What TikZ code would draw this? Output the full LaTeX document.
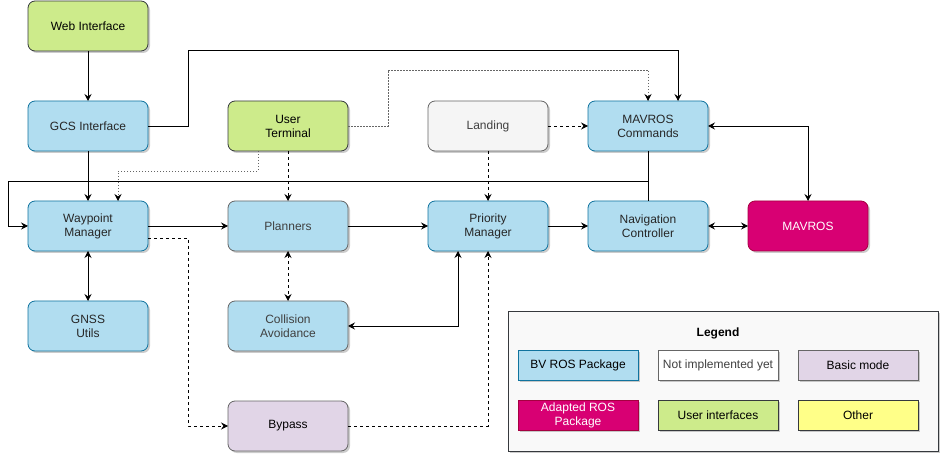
\documentclass[tikz,border=0pt]{standalone}
\usepackage{fontspec}
\setmainfont{Liberation Sans}
\usetikzlibrary{positioning, arrows.meta, shadows}
\definecolor{bvfill}{HTML}{B1DDF0}
\definecolor{bvline}{HTML}{10739E}
\definecolor{uifill}{HTML}{CDEB8B}
\definecolor{uiline}{HTML}{36393D}
\definecolor{nyifill}{HTML}{F5F5F5}
\definecolor{greyline}{HTML}{666666}
\definecolor{basicfill}{HTML}{E1D5E7}
\definecolor{adfill}{HTML}{D80073}
\definecolor{adline}{HTML}{A50040}
\definecolor{otherfill}{HTML}{FFFF88}

\begin{document}
\begin{tikzpicture}[x=1pt, y=1pt, font=\fontsize{12}{14}\selectfont, >={Stealth[length=7pt, width=7pt, inset=2.5pt]},
  line width=0.8pt,
  box/.style={draw, rounded corners=7pt, align=center, minimum width=120pt, minimum height=50pt, inner sep=2pt, outer sep=0pt,
    drop shadow={shadow xshift=2pt, shadow yshift=-2pt, opacity=0.2, fill=black}},
  bv/.style={box, fill=bvfill, draw=bvline, text=black!85},
  bvg/.style={box, fill=bvfill, draw=greyline, text=black!75},
  ui/.style={box, fill=uifill, draw=uiline},
  nyi/.style={box, fill=nyifill, draw=greyline, text=black!75},
  basic/.style={box, fill=basicfill, draw=greyline},
  adapted/.style={box, fill=adfill, draw=adline, text=white},
  legitem/.style={draw, align=center, minimum width=120pt, minimum height=30pt, inner sep=2pt, outer sep=0pt,
    drop shadow={shadow xshift=2pt, shadow yshift=-2pt, opacity=0.2, fill=black}},
  dsh/.style={dash pattern=on 3pt off 3pt},
  dot/.style={draw=greyline, line width=0.6pt, dash pattern=on 1.5pt off 1.5pt,
    -{Stealth[length=7pt, width=7pt, inset=2.5pt, black]}}]
  \useasboundingbox (0,0) rectangle (940,-454);

  % main column nodes
  \node[ui] (web) at (88,-26) {Web Interface};
  \node[bv, below=50pt of web] (gcs) {GCS Interface};
  \node[bv, below=50pt of gcs] (wpm) {Waypoint\\Manager};
  \node[bv, below=50pt of wpm] (gnss) {GNSS\\Utils};
  \node[bvg, right=80pt of wpm] (plan) {Planners};
  \node[bvg, below=50pt of plan] (coll) {Collision\\Avoidance};
  \node[basic, below=50pt of coll] (bypass) {Bypass};
  \node[ui, above=50pt of plan] (term) {User\\Terminal};
  \node[bv, right=80pt of plan] (prio) {Priority\\Manager};
  \node[nyi, above=50pt of prio] (landing) {Landing};
  \node[bv, right=40pt of prio] (nav) {Navigation\\Controller};
  \node[bv, above=50pt of nav] (mavcmd) {MAVROS\\Commands};
  \node[adapted, right=40pt of nav] (mavros) {MAVROS};

  % legend
  \node[draw=uiline, fill=nyifill!60, minimum width=430pt, minimum height=140pt, outer sep=0pt,
    drop shadow={shadow xshift=2pt, shadow yshift=-2pt, opacity=0.2, fill=black}] (leg) at (723,-381) {};
  \node[font=\fontsize{12}{14}\selectfont\bfseries] (legtitle) at (718,-333) {Legend};
  \node[legitem, fill=bvfill, draw=bvline] (l1) at (578,-365) {BV ROS Package};
  \node[legitem, fill=white, draw=greyline, text=black!75] (l2) at (718,-365) {Not implemented yet};
  \node[legitem, fill=basicfill, draw=greyline] (l3) at (858,-365) {Basic mode};
  \node[legitem, fill=adfill, draw=adline, text=white] (l4) at (578,-415) {Adapted ROS\\Package};
  \node[legitem, fill=uifill, draw=uiline] (l5) at (718,-415) {User interfaces};
  \node[legitem, fill=otherfill, draw=uiline] (l6) at (858,-415) {Other};

  % connectors
  \draw[->] (web) -- (gcs);
  \draw[->] (gcs) -- (wpm);
  \draw[->] (gcs.east) -- ++(40,0) -- ++(0,76) -| ([xshift=30]mavcmd.north);
  \draw[dot] (term.east) -- ++(40,0) -- ++(0,56) -| (mavcmd.north);
  \draw[dot] ([xshift=-30]term.south) -- ++(0,-20) -| ([xshift=30]wpm.north);
  \draw[dsh, ->] (term) -- (plan);
  \draw (mavcmd) -- (nav);
  \draw[->] ([yshift=20]nav.north) -- ++(-640,0) |- (wpm.west);
  \draw[->] (wpm) -- (plan);
  \draw[->] (plan) -- (prio);
  \draw[->] (prio) -- (nav);
  \draw[<->] (nav) -- (mavros);
  \draw[<->] (mavcmd.east) -| (mavros.north);
  \draw[dsh, ->] (landing) -- (mavcmd);
  \draw[dsh, ->] (landing) -- (prio);
  \draw[<->] (wpm) -- (gnss);
  \draw[dsh, <->] (plan) -- (coll);
  \draw[<->] ([xshift=-30]prio.south) |- (coll.east);
  \draw[dsh, ->] ([yshift=-12]wpm.east) -- ++(40,0) |- (bypass.west);
  \draw[dsh, ->] (bypass.east) -| (prio.south);
\end{tikzpicture}
\end{document}
